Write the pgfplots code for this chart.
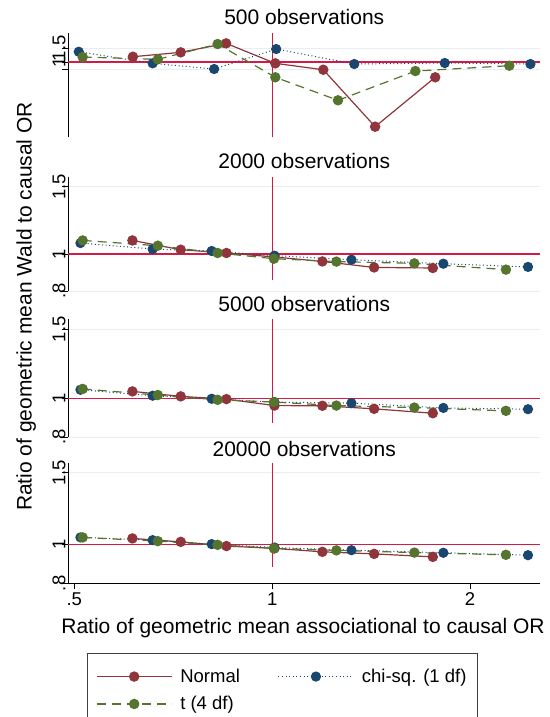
\documentclass[border=0pt]{standalone}
\usepackage{pgfplots}
\pgfplotsset{compat=1.18}
\usepackage{fontspec}
\setmainfont{Liberation Sans}

\definecolor{smaroon}{RGB}{144,53,59}
\definecolor{snavy}{RGB}{26,71,111}
\definecolor{sgreen}{RGB}{85,117,47}
\definecolor{refred}{RGB}{214,26,70}
\definecolor{gridc}{RGB}{230,238,240}

\newcommand\bigfont{\fontsize{21}{25}\selectfont}
\newcommand\smallfont{\fontsize{18.5}{22}\selectfont}

\pgfplotsset{
  panelbase/.style={
    scale only axis, width=471.9pt,
    xmin=0.4897, xmax=2.556,
    clip=false,
    axis y line*=left,
    axis line style={black, line width=0.9pt},
    xtick={0.5,1,2}, xticklabels={.5,1,2},
    ytick={0.8,1,1.5}, yticklabels={.8,1,1.5},
    ymajorgrids, major grid style={gridc, line width=0.9pt},
    tick style={black, line width=0.9pt}, tick align=outside, major tick length=6pt,
    ticklabel style={font=\smallfont},
    yticklabel style={rotate=90, anchor=base, inner sep=0pt},
    yticklabel shift=-3pt,
    /pgf/number format/assume math mode=true,
  },
  serN/.style={smaroon, line width=1.2pt, mark=*, mark size=4.6pt,
    mark options={solid, fill=smaroon, draw=smaroon}},
  serC/.style={snavy, line width=1pt, dash pattern=on 1pt off 2.6pt, mark=*, mark size=4.6pt,
    mark options={solid, fill=snavy, draw=snavy}},
  serT/.style={sgreen, line width=1.2pt, dash pattern=on 9pt off 6pt, mark=*, mark size=4.6pt,
    mark options={solid, fill=sgreen, draw=sgreen}},
  refl/.style={refred, line width=1.1pt, forget plot},
}

\begin{document}
\begin{tikzpicture}
\path[use as bounding box] (0,0) rectangle (549pt,-717pt);

% 500 observations
\begin{loglogaxis}[panelbase, hide x axis, at={(68.3pt,-137.3pt)}, anchor=south west,
  height=104pt, ymin=0.109, ymax=2.33, yticklabels={,1,1.5}]
\addplot[refl] coordinates {(0.4897,1) (2.556,1)};
\addplot[refl] coordinates {(1,0.109) (1,2.33)};
\addplot[serN] coordinates {(0.614,1.169) (0.726,1.330) (0.851,1.733) (1.011,0.962) (1.196,0.797) (1.434,0.149) (1.770,0.638)};
\addplot[serC] coordinates {(0.508,1.354) (0.658,0.962) (0.816,0.814) (1.014,1.466) (1.333,0.943) (1.830,0.971) (2.470,0.943)};
\addplot[serT] coordinates {(0.515,1.158) (0.670,1.083) (0.826,1.698) (1.011,0.638) (1.259,0.324) (1.651,0.767) (2.294,0.897)};
\end{loglogaxis}

% 2000 observations
\begin{loglogaxis}[panelbase, hide x axis, at={(68.3pt,-291pt)}, anchor=south west,
  height=114pt, ymin=0.8, ymax=1.59]
\addplot[refl] coordinates {(0.4897,1) (2.556,1)};
\addplot[refl] coordinates {(1,0.853) (1,1.59)};
\addplot[serN] coordinates {(0.613,1.085) (0.726,1.026) (0.852,1.006) (1.008,0.982) (1.192,0.956) (1.429,0.922) (1.755,0.919)};
\addplot[serC] coordinates {(0.511,1.068) (0.658,1.030) (0.809,1.018) (1.008,0.990) (1.320,0.966) (1.821,0.943) (2.449,0.925)};
\addplot[serT] coordinates {(0.515,1.085) (0.670,1.051) (0.826,1.006) (1.006,0.972) (1.252,0.955) (1.645,0.945) (2.267,0.910)};
\end{loglogaxis}

% 5000 observations
\begin{loglogaxis}[panelbase, hide x axis, at={(68.3pt,-437pt)}, anchor=south west,
  height=117.7pt, ymin=0.8, ymax=1.59]
\addplot[refl] coordinates {(0.4897,1) (2.556,1)};
\addplot[refl] coordinates {(1,0.867) (1,1.59)};
\addplot[serN] coordinates {(0.613,1.044) (0.726,1.014) (0.852,0.998) (1.008,0.961) (1.192,0.960) (1.429,0.943) (1.755,0.919)};
\addplot[serC] coordinates {(0.511,1.054) (0.658,1.018) (0.809,1.000) (1.008,0.981) (1.320,0.975) (1.821,0.948) (2.449,0.941)};
\addplot[serT] coordinates {(0.515,1.059) (0.670,1.022) (0.826,0.994) (1.006,0.981) (1.252,0.961) (1.645,0.950) (2.267,0.932)};
\end{loglogaxis}

% 20000 observations
\begin{loglogaxis}[panelbase, axis x line*=bottom, at={(68.3pt,-583.3pt)}, anchor=south west,
  height=120.6pt, ymin=0.8, ymax=1.59,
  legend columns=2,
  legend cell align=left,
  legend image code/.code={\draw[mark repeat=2,mark phase=2,#1] plot coordinates {(0pt,0pt) (37.5pt,0pt) (75pt,0pt)};},
  legend style={at={(axis description cs:0.039,-0.5755)}, anchor=north west,
    draw=black!75, line width=0.8pt, font=\smallfont, inner xsep=9pt, inner ysep=14pt,
    row sep=8.5pt,
    /tikz/every odd column/.style={column sep=6pt},
    /tikz/every even column/.style={column sep=36pt}}]
\addplot[refl] coordinates {(0.4897,1) (2.556,1)};
\addplot[refl] coordinates {(1,0.88) (1,1.59)};
\addplot[serN] coordinates {(0.613,1.033) (0.726,1.013) (0.852,0.989) (1.008,0.976) (1.192,0.957) (1.429,0.946) (1.755,0.930)};
\addlegendentry{Normal}
\addplot[serC] coordinates {(0.511,1.039) (0.658,1.023) (0.809,1.000) (1.008,0.981) (1.320,0.966) (1.821,0.952) (2.449,0.939)};
\addlegendentry{chi-sq. (1 df)}
\addplot[serT] coordinates {(0.515,1.039) (0.670,1.017) (0.826,0.996) (1.006,0.976) (1.252,0.965) (1.645,0.953) (2.267,0.941)};
\addlegendentry{t (4 df)}
\end{loglogaxis}

\node[anchor=base, font=\bigfont] at (304.25pt,-25pt) {500 observations};
\node[anchor=base, font=\bigfont] at (304.25pt,-168.3pt) {2000 observations};
\node[anchor=base, font=\bigfont] at (304.25pt,-311.7pt) {5000 observations};
\node[anchor=base, font=\bigfont] at (304.25pt,-456pt) {20000 observations};
\node[anchor=base, font=\bigfont] at (303pt,-633.3pt) {Ratio of geometric mean associational to causal OR};
\node[anchor=base, rotate=90, font=\bigfont] at (31.5pt,-306.5pt) {Ratio of geometric mean Wald to causal OR};
\end{tikzpicture}
\end{document}
